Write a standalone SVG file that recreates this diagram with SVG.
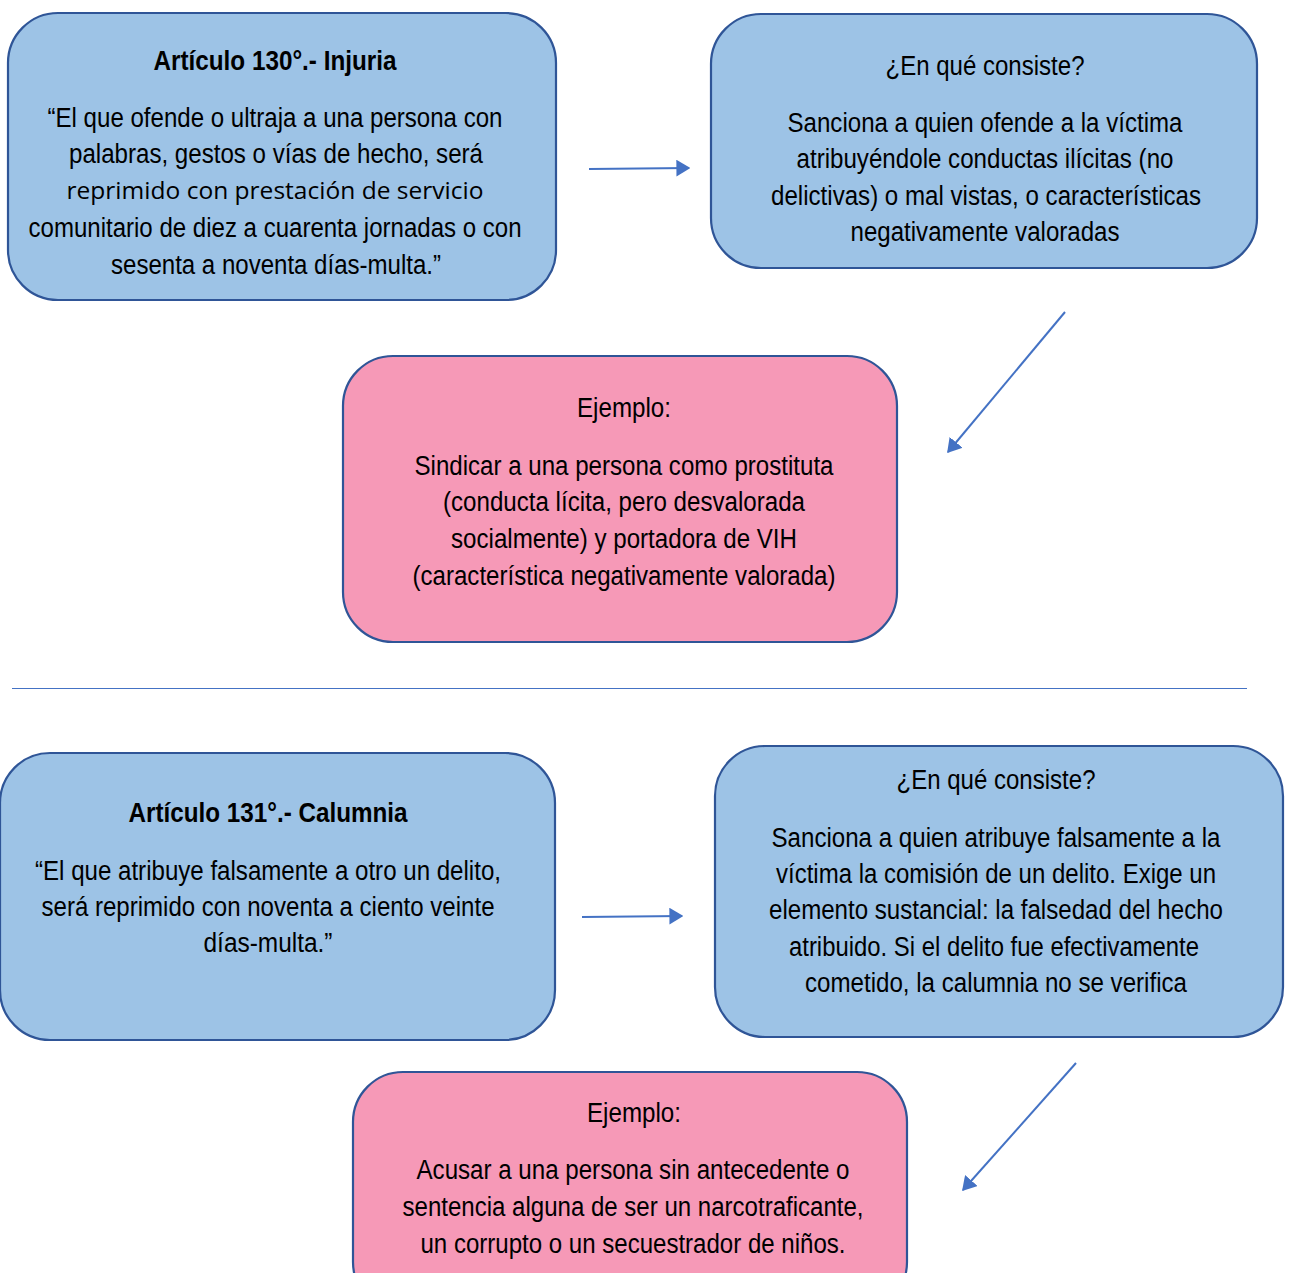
<svg xmlns="http://www.w3.org/2000/svg" width="1289" height="1273" viewBox="0 0 1289 1273">
<style>
.blue{fill:#9DC3E6;stroke:#2F5597;stroke-width:2.2}
.pink{fill:#F699B7;stroke:#2F5597;stroke-width:2.2}
text{font-family:"Liberation Sans Narrow","Arial Narrow","Liberation Sans",sans-serif;font-size:27px;fill:#000;text-anchor:middle}
.b{font-weight:bold}
.cal{font-family:"Open Sans","Liberation Sans",sans-serif;font-size:24px}
.conn{stroke:#4472C4;stroke-width:2;fill:none}
</style>
<defs>
<marker id="ah" viewBox="0 0 10 12" refX="9" refY="6" markerWidth="7" markerHeight="8.4" orient="auto" markerUnits="strokeWidth">
<path d="M0,0 L10,6 L0,12 z" fill="#4472C4"/>
</marker>
</defs>
<rect width="1289" height="1273" fill="#fff"/>
<g id="connectors">
<line class="conn" x1="589" y1="169" x2="689" y2="168" marker-end="url(#ah)"/>
<line class="conn" x1="1065" y1="312" x2="948" y2="452" marker-end="url(#ah)"/>
<line x1="12" y1="688.5" x2="1247" y2="688.5" stroke="#4472C4" stroke-width="1"/>
<line class="conn" x1="582" y1="917" x2="682" y2="916" marker-end="url(#ah)"/>
<line class="conn" x1="1076" y1="1063" x2="963" y2="1190" marker-end="url(#ah)"/>
</g>
<g id="art130">
<rect class="blue" x="8" y="13" width="548" height="287" rx="50"/>
<text class="b" x="275" y="70" textLength="243" lengthAdjust="spacingAndGlyphs">Artículo 130°.- Injuria</text>
<text x="275" y="127" textLength="455" lengthAdjust="spacingAndGlyphs">“El que ofende o ultraja a una persona con</text>
<text x="276" y="163" textLength="414" lengthAdjust="spacingAndGlyphs">palabras, gestos o vías de hecho, será</text>
<text class="cal" x="275" y="199" textLength="417" lengthAdjust="spacingAndGlyphs">reprimido con prestación de servicio</text>
<text x="275" y="237" textLength="493" lengthAdjust="spacingAndGlyphs">comunitario de diez a cuarenta jornadas o con</text>
<text x="276" y="274" textLength="330" lengthAdjust="spacingAndGlyphs">sesenta a noventa días-multa.”</text>
</g>
<g id="consiste1">
<rect class="blue" x="711" y="14" width="546" height="254" rx="50"/>
<text x="985" y="75" textLength="199" lengthAdjust="spacingAndGlyphs">¿En qué consiste?</text>
<text x="985" y="132" textLength="395" lengthAdjust="spacingAndGlyphs">Sanciona a quien ofende a la víctima</text>
<text x="985" y="168" textLength="377" lengthAdjust="spacingAndGlyphs">atribuyéndole conductas ilícitas (no</text>
<text x="986" y="205" textLength="430" lengthAdjust="spacingAndGlyphs">delictivas) o mal vistas, o características</text>
<text x="985" y="241" textLength="269" lengthAdjust="spacingAndGlyphs">negativamente valoradas</text>
</g>
<g id="ejemplo1">
<rect class="pink" x="343" y="356" width="554" height="286" rx="50"/>
<text x="624" y="417" textLength="94" lengthAdjust="spacingAndGlyphs">Ejemplo:</text>
<text x="624" y="475" textLength="419" lengthAdjust="spacingAndGlyphs">Sindicar a una persona como prostituta</text>
<text x="624" y="511" textLength="362" lengthAdjust="spacingAndGlyphs">(conducta lícita, pero desvalorada</text>
<text x="624" y="548" textLength="346" lengthAdjust="spacingAndGlyphs">socialmente) y portadora de VIH</text>
<text x="624" y="585" textLength="423" lengthAdjust="spacingAndGlyphs">(característica negativamente valorada)</text>
</g>
<g id="art131">
<rect class="blue" x="0" y="753" width="555" height="287" rx="50"/>
<text class="b" x="268" y="822" textLength="279" lengthAdjust="spacingAndGlyphs">Artículo 131°.- Calumnia</text>
<text x="268" y="880" textLength="466" lengthAdjust="spacingAndGlyphs">“El que atribuye falsamente a otro un delito,</text>
<text x="268" y="916" textLength="453" lengthAdjust="spacingAndGlyphs">será reprimido con noventa a ciento veinte</text>
<text x="268" y="952" textLength="129" lengthAdjust="spacingAndGlyphs">días-multa.”</text>
</g>
<g id="consiste2">
<rect class="blue" x="715" y="746" width="568" height="291" rx="50"/>
<text x="996" y="789" textLength="199" lengthAdjust="spacingAndGlyphs">¿En qué consiste?</text>
<text x="996" y="847" textLength="449" lengthAdjust="spacingAndGlyphs">Sanciona a quien atribuye falsamente a la</text>
<text x="996" y="883" textLength="440" lengthAdjust="spacingAndGlyphs">víctima la comisión de un delito. Exige un</text>
<text x="996" y="919" textLength="454" lengthAdjust="spacingAndGlyphs">elemento sustancial: la falsedad del hecho</text>
<text x="994" y="956" textLength="410" lengthAdjust="spacingAndGlyphs">atribuido. Si el delito fue efectivamente</text>
<text x="996" y="992" textLength="382" lengthAdjust="spacingAndGlyphs">cometido, la calumnia no se verifica</text>
</g>
<g id="ejemplo2">
<rect class="pink" x="353" y="1072" width="554" height="240" rx="50"/>
<text x="634" y="1122" textLength="94" lengthAdjust="spacingAndGlyphs">Ejemplo:</text>
<text x="633" y="1179" textLength="433" lengthAdjust="spacingAndGlyphs">Acusar a una persona sin antecedente o</text>
<text x="633" y="1216" textLength="461" lengthAdjust="spacingAndGlyphs">sentencia alguna de ser un narcotraficante,</text>
<text x="633" y="1253" textLength="425" lengthAdjust="spacingAndGlyphs">un corrupto o un secuestrador de niños.</text>
</g>
</svg>
